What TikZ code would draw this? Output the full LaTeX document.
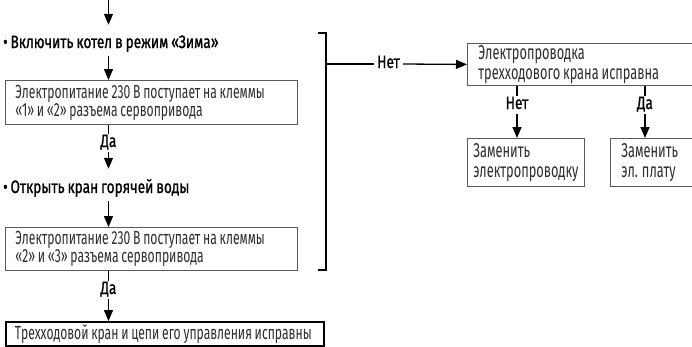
\documentclass[tikz,border=0pt]{standalone}
\usepackage{fontspec}
\setmainfont{Fira Sans}[FakeStretch=0.64, WordSpace=0.85]
\newfontfamily\labfont{Fira Sans}[FakeStretch=0.76, FakeBold=1.0, WordSpace=0.8]
\usetikzlibrary{arrows.meta}
\definecolor{boxline}{HTML}{5A5A5A}
\definecolor{boxtext}{HTML}{2E2E2E}

\begin{document}
\begin{tikzpicture}[x=1pt,y=-1pt,
  box/.style={draw=boxline, line width=0.9pt, anchor=north west, align=flush left,
    inner xsep=10pt, inner ysep=0pt, text=boxtext,
    font=\fontsize{19}{18}\selectfont},
  rbox/.style={box, font=\fontsize{20}{20}\selectfont},
  lab/.style={font=\labfont\fontsize{18}{18}\selectfont, inner xsep=3pt,
    inner ysep=1pt, text height=12pt, text depth=4pt},
  con/.style={line width=1.3pt},
  arr/.style={con, -{Triangle[width=9pt,length=11pt]}},
]
\useasboundingbox (0,0) rectangle (692,346);

% guide lines for the vertical connectors
\coordinate (spine) at (108.5,0);
\coordinate (cx1) at (517,0);
\coordinate (cx2) at (645,0);

% left column
\coordinate (start) at (108.5,0);
\node[lab, anchor=west] (t1) at (0,44) {• Включить котел в режим «Зима»};
\node[box, minimum width=292pt, minimum height=44pt, text width=272pt] (b1) at (5,80)
  {Электропитание 230 В поступает на клеммы\\«1» и «2» разъема сервопривода};
\node[lab] (y1) at (108.5,143) {Да};
\node[lab, anchor=west] (t2) at (0,189) {• Открыть кран горячей воды};
\node[box, minimum width=292pt, minimum height=43pt, text width=272pt] (b2) at (5,227)
  {Электропитание 230 В поступает на клеммы\\«2» и «3» разъема сервопривода};
\node[lab] (y2) at (108.5,290) {Да};
\node[box, draw=black, line width=1.6pt, minimum width=318pt, minimum height=24pt,
  inner xsep=9pt, text width=300pt] (b3) at (5,321)
  {Трехходовой кран и цепи его управления исправны};

\draw[arr, shorten >=10pt] (start) -- (t1.north -| spine);
\draw[arr, shorten <=3pt] (t1.south -| spine) -- (b1.north -| spine);
\draw[con] (b1.south -| spine) -- (y1.north);
\draw[arr, shorten >=11pt] (y1.south) -- (t2.north -| spine);
\draw[arr, shorten <=3pt] (t2.south -| spine) -- (b2.north -| spine);
\draw[con] (b2.south -| spine) -- (y2.north);
\draw[arr] (y2.south) -- (b3.north -| spine);

% bracket spanning both checks
\draw[con] (318,33) -- (326,33) -- (326,270) -- (318,270);
\coordinate (brk) at (326,64);

% right branch
\node[rbox, minimum width=226pt, minimum height=42pt, text width=204pt] (r1) at (467,43)
  {Электропроводка\\трехходового крана исправна};
\node[lab] (n1) at (388.5,64) {Нет};
\node[rbox, minimum width=117pt, minimum height=48pt, inner xsep=4pt] (r2) at (467,138)
  {Заменить\\электропроводку};
\node[rbox, minimum width=83pt, minimum height=48pt, text width=61pt] (r3) at (610,138)
  {Заменить\\эл. плату};
\node[lab] (n2) at (517,105) {Нет};
\node[lab] (n3) at (645,105) {Да};

\draw[con] (brk) -- (n1.west);
\draw[arr] (n1.east) -- (r1.west);
\draw[con] (r1.south -| cx1) -- (n2.north);
\draw[arr] (n2.south) -- (r2.north -| cx1);
\draw[con] (r1.south -| cx2) -- (n3.north);
\draw[arr] (n3.south) -- (r3.north -| cx2);
\end{tikzpicture}
\end{document}
